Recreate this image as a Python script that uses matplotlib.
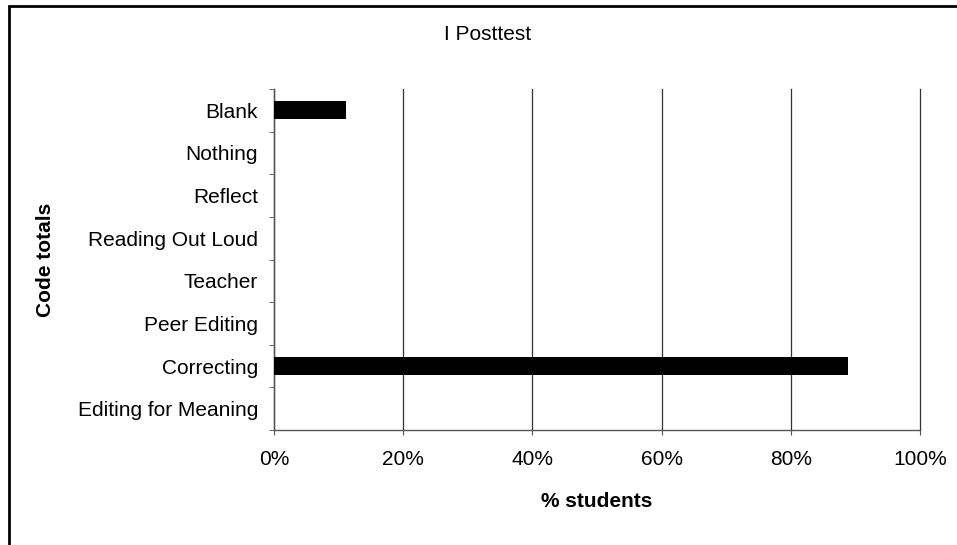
import matplotlib.pyplot as plt
from matplotlib.patches import Rectangle
from matplotlib.ticker import FixedLocator, PercentFormatter

plt.rcParams['font.family'] = ['Liberation Sans', 'DejaVu Sans']

# categories listed top to bottom
categories = ['Blank', 'Nothing', 'Reflect', 'Reading Out Loud', 'Teacher',
              'Peer Editing', 'Correcting', 'Editing for Meaning']
posttest = [11.1, 0, 0, 0, 0, 0, 88.9, 0]

W, H = 957, 545
fig = plt.figure(figsize=(W / 100, H / 100), dpi=100)
ax = fig.add_axes([274 / W, 1 - 430 / H, (920 - 274) / W, (430 - 89) / H])

n = len(categories)
ypos = [n - 1 - i for i in range(n)]
ax.barh(ypos, posttest, height=0.43, color='black', zorder=3)

ax.set_xlim(0, 100)
ax.set_ylim(-0.5, n - 0.5)
ax.set_xticks(range(0, 101, 20))
ax.xaxis.set_major_formatter(PercentFormatter(decimals=0))
ax.set_yticks(ypos)
ax.set_yticklabels(categories)
ax.yaxis.set_minor_locator(FixedLocator([i - 0.5 for i in range(n + 1)]))
ax.tick_params(axis='y', which='major', length=0, pad=11.5, labelsize=15)
ax.tick_params(axis='y', which='minor', length=3.6, color='#555555')
ax.tick_params(axis='x', length=3.6, color='#555555', labelsize=15, pad=11)

ax.grid(axis='x', color='#333333', linewidth=0.9, zorder=1)
for gl in ax.get_xgridlines():
    gl.set_clip_on(False)
for s in ['top', 'right']:
    ax.spines[s].set_visible(False)
for s in ['left', 'bottom']:
    ax.spines[s].set_color('#555555')
    ax.spines[s].set_linewidth(1.0)

ax.set_xlabel('% students', fontsize=15, fontweight='bold')
ax.xaxis.set_label_coords(0.5, -(492 - 430) / (430 - 89))
ax.set_ylabel('Code totals', fontsize=15, fontweight='bold')
ax.yaxis.set_label_coords(-(274 - 55) / (920 - 274), 0.5)

fig.text(488 / W, 1 - 34 / H, 'I Posttest', ha='center', va='center', fontsize=15)

# outer frame (only left and top edges visible in the crop)
fig.patches.append(Rectangle((9 / W, -0.1), 1.2, 1 - 6 / H + 0.1,
                             transform=fig.transFigure, fill=False,
                             edgecolor='black', linewidth=2))

fig.savefig('out.png', dpi=100)
